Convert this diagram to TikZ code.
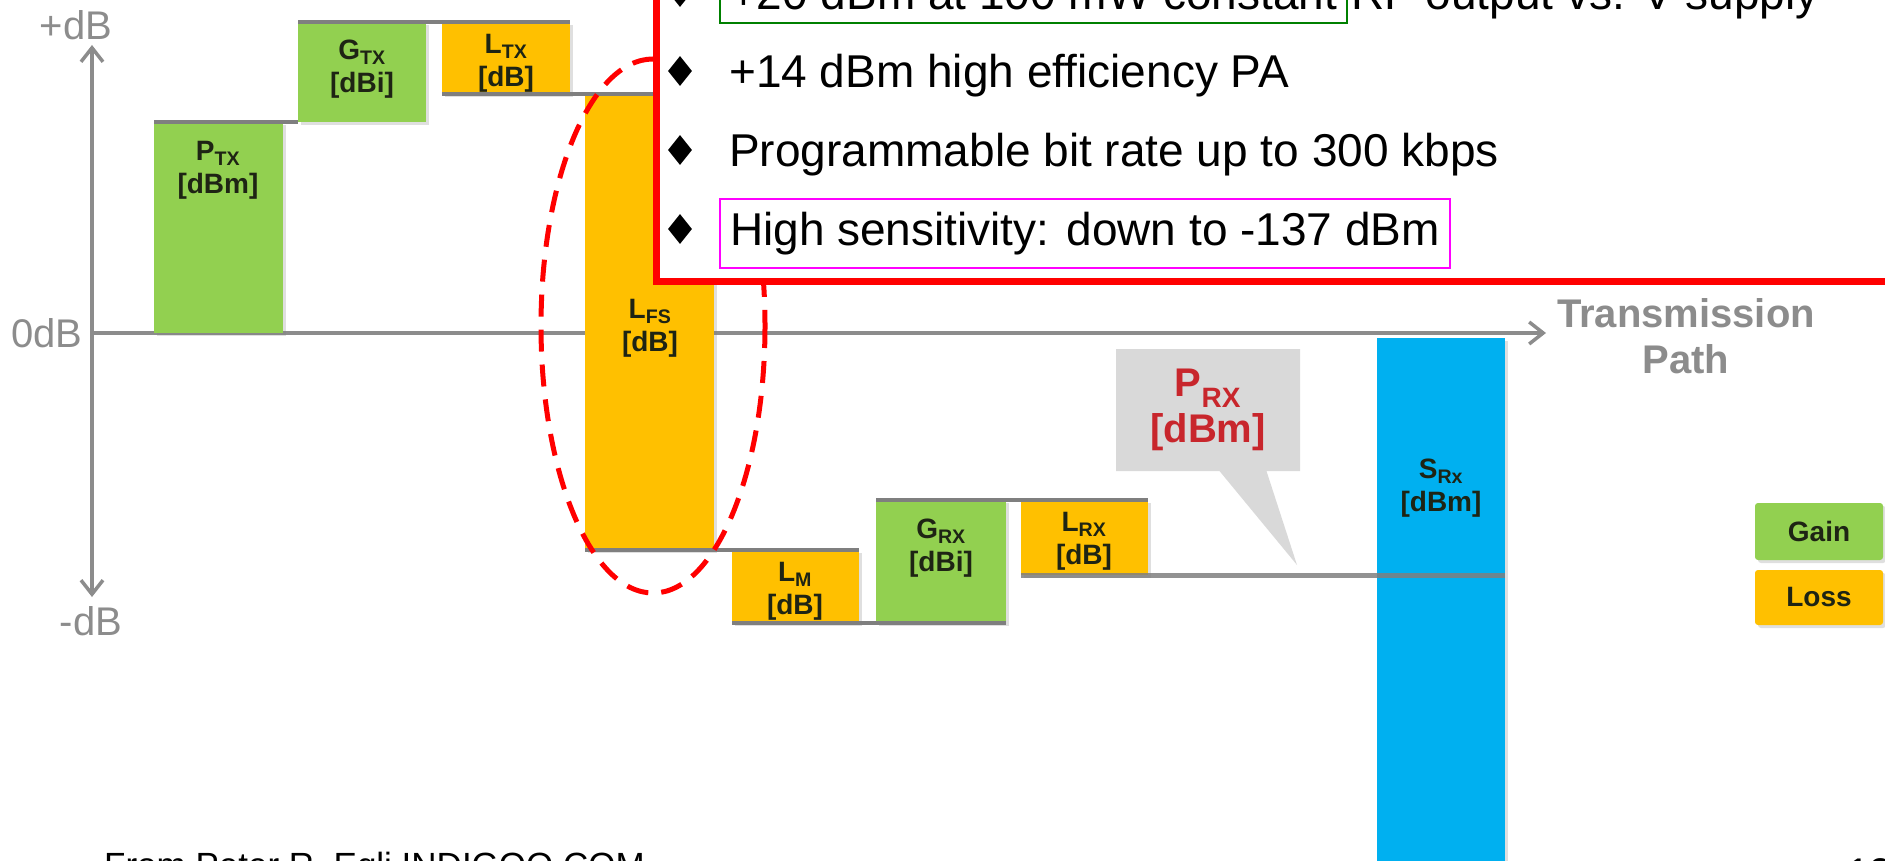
\documentclass[tikz,border=0pt]{standalone}
\usepackage{fontspec}
\setmainfont{Liberation Sans}
\usetikzlibrary{arrows.meta,shapes.geometric,shapes.callouts,shadows}
\definecolor{gaingreen}{HTML}{92D050}
\definecolor{lossorange}{HTML}{FFC000}
\definecolor{srxblue}{HTML}{00B0F0}
\definecolor{calloutgray}{HTML}{D9D9D9}
\definecolor{axisgray}{HTML}{8C8C8C}
\definecolor{levelgray}{HTML}{7F7F7F}
\definecolor{labeldark}{HTML}{1E2414}
\definecolor{prxred}{HTML}{C8262C}
\definecolor{boxgreen}{HTML}{008000}
\definecolor{boxmagenta}{HTML}{FF00FF}
\tikzset{
  box/.style={draw=none, inner sep=0pt, outer sep=0pt,
    drop shadow={shadow xshift=3pt, shadow yshift=-3pt, opacity=0.25}},
  gainbox/.style={box, fill=gaingreen},
  lossbox/.style={box, fill=lossorange},
  boxlabel/.style={align=center, text=labeldark, inner sep=0pt,
    font=\bfseries\fontsize{28}{33}\selectfont},
  level/.style={levelgray, line width=4pt},
  axis/.style={axisgray, line width=3.5pt},
  barb/.style={-{Straight Barb[length=14pt,width=22pt]}},
  axislabel/.style={text=axisgray, inner sep=0pt, font=\fontsize{40}{44}\selectfont},
  bullet/.style={diamond, fill=black, inner sep=0pt, minimum width=24pt, minimum height=30pt},
  bullettext/.style={anchor=base west, inner sep=0pt, font=\fontsize{46}{50}\selectfont},
}
\begin{document}
\begin{tikzpicture}[x=1pt,y=-1pt]
  \useasboundingbox (0,0) rectangle (1885,861);
  \clip (0,0) rectangle (1885,861);
  % axes
  \coordinate (orig) at (92,333);
  \coordinate (ytop) at (92,45);
  \coordinate (ybot) at (92,597);
  \coordinate (xend) at (1546,333);
  \draw[axis,barb] (orig) -- (ytop);
  \draw[axis,barb] (orig) -- (ybot);
  \draw[axis,barb] (orig) -- (xend);
  \node[axislabel] (pdb) at (76,25) {+dB};
  \node[axislabel] (zdb) at (47,333) {0dB};
  \node[axislabel] (mdb) at (91,621) {-dB};
  \node[axislabel, align=center, font=\bfseries\fontsize{40}{46}\selectfont] (tpath) at (1686,336) {Transmission\\Path};
  % link budget bars
  \node[gainbox, minimum width=129pt, minimum height=211pt] (ptx) at (218.5,227.5) {};
  \node[gainbox, minimum width=128pt, minimum height=100pt] (gtx) at (362,72) {};
  \node[lossbox, minimum width=128pt, minimum height=72pt] (ltx) at (506,58) {};
  \node[lossbox, minimum width=129pt, minimum height=456pt] (lfs) at (649.5,322) {};
  \node[lossbox, minimum width=127pt, minimum height=73pt] (lm) at (795.5,586.5) {};
  \node[gainbox, minimum width=130pt, minimum height=123pt] (grx) at (941,561.5) {};
  \node[lossbox, minimum width=127pt, minimum height=75pt] (lrx) at (1084.5,537.5) {};
  \node[box, fill=srxblue, minimum width=128pt, minimum height=530pt] (srx) at (1441,603) {};
  \draw[level] (ptx.north west) -- (gtx.south west);
  \draw[level] (gtx.north west) -- (ltx.north east);
  \draw[level] (ltx.south west) -- (lfs.north east);
  \draw[level] (lfs.south west) -- (lm.north east);
  \draw[level] (lm.south west) -- (grx.south east);
  \draw[level] (grx.north west) -- (lrx.north east);
  \draw[level, line width=5pt, opacity=0.85] (lrx.south west) -- (srx.east |- lrx.south);
  \node[boxlabel] (ptxl) at (218,170) {P\textsubscript{TX}\\{[dBm]}};
  \node[boxlabel] (gtxl) at (362,69) {G\textsubscript{TX}\\{[dBi]}};
  \node[boxlabel] (ltxl) at (506,63) {L\textsubscript{TX}\\{[dB]}};
  \node[boxlabel] (lfsl) at (650,328) {L\textsubscript{FS}\\{[dB]}};
  \node[boxlabel] (lml) at (795,591) {L\textsubscript{M}\\{[dB]}};
  \node[boxlabel] (grxl) at (941,548) {G\textsubscript{RX}\\{[dBi]}};
  \node[boxlabel] (lrxl) at (1084,541) {L\textsubscript{RX}\\{[dB]}};
  \node[boxlabel] (srxl) at (1441,488) {S\textsubscript{Rx}\\{[dBm]}};
  % received power callout
  \node[rectangle callout, fill=calloutgray, minimum width=184pt, minimum height=122pt,
    callout absolute pointer={(1297,565)}, callout pointer width=47pt,
    align=center, text=prxred, font=\bfseries\fontsize{40}{46}\selectfont] (prx) at (1208,410) {P\textsubscript{RX}\\{[dBm]}};
  % legend
  \node[gainbox, rounded corners=3pt, minimum width=128pt, minimum height=57pt,
    text=labeldark, font=\bfseries\fontsize{28}{30}\selectfont] (gain) at (1819,531.5) {Gain};
  \node[lossbox, rounded corners=3pt, minimum width=128pt, minimum height=55pt,
    text=labeldark, font=\bfseries\fontsize{28}{30}\selectfont] (loss) at (1819,597.5) {Loss};
  % highlight
  \draw[red, line width=5pt, dash pattern=on 22pt off 13pt] (653,326) ellipse [x radius=112, y radius=267];
  % feature panel
  \draw[red, line width=7pt, fill=white] (656.5,-20) rectangle (1910,281.5);
  \node[bullet] (b1) at (680,-8) {};
  \node[bullet] (b2) at (680,71) {};
  \node[bullet] (b3) at (680,150) {};
  \node[bullet] (b4) at (680,229) {};
  \node[bullettext, draw=boxgreen, line width=2pt, inner xsep=10pt, inner ysep=13pt] (t1) at (719,10) {+20 dBm at 100 mW constant};
  \node[bullettext] (t1b) at ([xshift=3pt]t1.base east) {RF output vs. V supply};
  \node[bullettext] (t2) at (729,88) {+14 dBm high efficiency PA};
  \node[bullettext] (t3) at (729,167) {Programmable bit rate up to 300 kbps};
  \node[bullettext, draw=boxmagenta, line width=2pt, inner xsep=10pt, inner ysep=13pt] (t4) at (719,245) {High sensitivity: down to -137 dBm};
  % footer
  \node[anchor=base west, inner sep=0pt, font=\fontsize{35}{40}\selectfont] (credit) at (104,877) {From Peter R. Egli INDIGOO.COM};
  \node[anchor=base west, inner sep=0pt, font=\fontsize{40}{44}\selectfont] (pageno) at (1847,886) {12};
\end{tikzpicture}
\end{document}
